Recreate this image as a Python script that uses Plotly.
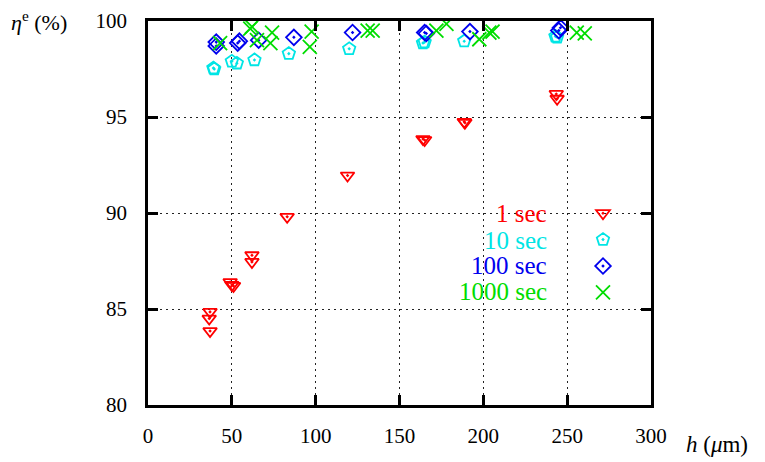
import plotly.graph_objects as go

# ---- data ----
h_1s = [37, 36.5, 37, 49, 50, 51, 62, 62, 83, 119, 164, 165, 188.6, 189, 243.5, 244]
eta_1s = [84.85, 84.5, 83.85, 86.4, 86.25, 86.2, 87.8, 87.45, 89.8, 91.95, 93.85, 93.8, 94.75, 94.7, 96.2, 95.95]

h_10s = [39, 39.5, 50, 53, 63.5, 84, 120, 164, 165, 188.6, 243, 244]
eta_10s = [97.55, 97.5, 97.9, 97.8, 97.97, 98.3, 98.55, 98.85, 98.9, 98.95, 99.2, 99.15]

h_100s = [40.7, 40.7, 53.5, 54.5, 66, 87, 122, 165, 166, 192, 245, 246]
eta_100s = [98.9, 98.7, 98.85, 98.95, 99.0, 99.15, 99.4, 99.4, 99.35, 99.45, 99.5, 99.65]

h_1000s = [43, 61, 62, 65, 73, 74, 96.5, 97.6, 131, 134, 172, 178, 197.6, 203.6, 205.5, 255.7, 260.5]
eta_1000s = [98.85, 99.6, 99.7, 99.0, 98.85, 99.4, 98.65, 99.45, 99.5, 99.5, 99.5, 99.85, 99.05, 99.4, 99.45, 99.4, 99.35]

labels = ["1 sec", "10 sec", "100 sec", "1000 sec"]
colors = ["#ff0000", "#00e5e5", "#0000ee", "#00dd00"]
symbols = ["triangle-down-open-dot", "pentagon-open-dot", "diamond-open-dot", "x-thin-open"]
sizes = [12, 13, 12, 14]

x_ticks = [0, 50, 100, 150, 200, 250, 300]
y_ticks = [80, 85, 90, 95, 100]

series = [(h_1s, eta_1s), (h_10s, eta_10s), (h_100s, eta_100s), (h_1000s, eta_1000s)]

FONT = "Liberation Serif, Times New Roman, DejaVu Serif, serif"
# page body has an 8px default margin; plot area target: x 148..651, y 21..405 on the page
OFF = 8
L, T, PW, PH = 148 - OFF, 21 - OFF, 503, 384
W, H = 765 - OFF, 462 - OFF

fig = go.Figure()
for (xs, ys), lab, col, sym, sz in zip(series, labels, colors, symbols, sizes):
    fig.add_trace(go.Scatter(
        x=xs, y=ys, mode="markers", name=" ",
        marker=dict(symbol=sym, size=sz, color=col, line=dict(color=col, width=1.8)),
        showlegend=True,
    ))

axis_common = dict(
    showline=True, linecolor="black", linewidth=2.5, mirror="ticks",
    ticks="inside", ticklen=10, tickwidth=2.5, tickcolor="black",
    showgrid=True, gridcolor="#222222", gridwidth=1, griddash="2px,4px",
    zeroline=False, tickfont=dict(family=FONT, size=21, color="black"),
)

fig.update_xaxes(range=[0, 300], tickvals=x_ticks, ticklabelstandoff=10, **axis_common)
fig.update_yaxes(range=[80, 100], tickvals=y_ticks, ticklabelstandoff=14, **axis_common)

def px(xp):
    return (xp - 148) / PW

def py(yp):
    return (405 - yp) / PH

# white box behind legend (masks grid as in reference)
fig.add_shape(type="rect", xref="paper", yref="paper",
              x0=px(428), x1=px(640), y0=py(304), y1=py(199),
              fillcolor="white", line=dict(width=0), layer="between")

row_y = [213, 240, 265, 291]
for lab, col, yy in zip(labels, colors, row_y):
    fig.add_annotation(xref="paper", yref="paper", x=px(549), y=py(yy),
                       text=lab, showarrow=False, xanchor="right", yanchor="middle",
                       font=dict(family=FONT, size=25, color=col))

fig.add_annotation(xref="paper", yref="paper", x=px(9), y=py(21), xanchor="left", yanchor="middle",
                   text="<i>η</i><sup>e</sup> (%)", showarrow=False,
                   font=dict(family=FONT, size=22, color="black"))
fig.add_annotation(xref="paper", yref="paper", x=px(684), y=py(444), xanchor="left", yanchor="middle",
                   text="<i>h</i> (<i>μ</i>m)", showarrow=False,
                   font=dict(family=FONT, size=23, color="black"))

fig.update_layout(
    width=W, height=H,
    margin=dict(l=L, r=W - L - PW, t=T, b=H - T - PH, autoexpand=False),
    paper_bgcolor="white", plot_bgcolor="white",
    font=dict(family=FONT, size=21, color="black"),
    legend=dict(x=px(583), y=py(195), xanchor="left", yanchor="top",
                bgcolor="rgba(0,0,0,0)", font=dict(family=FONT, size=18),
                itemwidth=30, tracegroupgap=0),
)

fig.write_html("out.html")
